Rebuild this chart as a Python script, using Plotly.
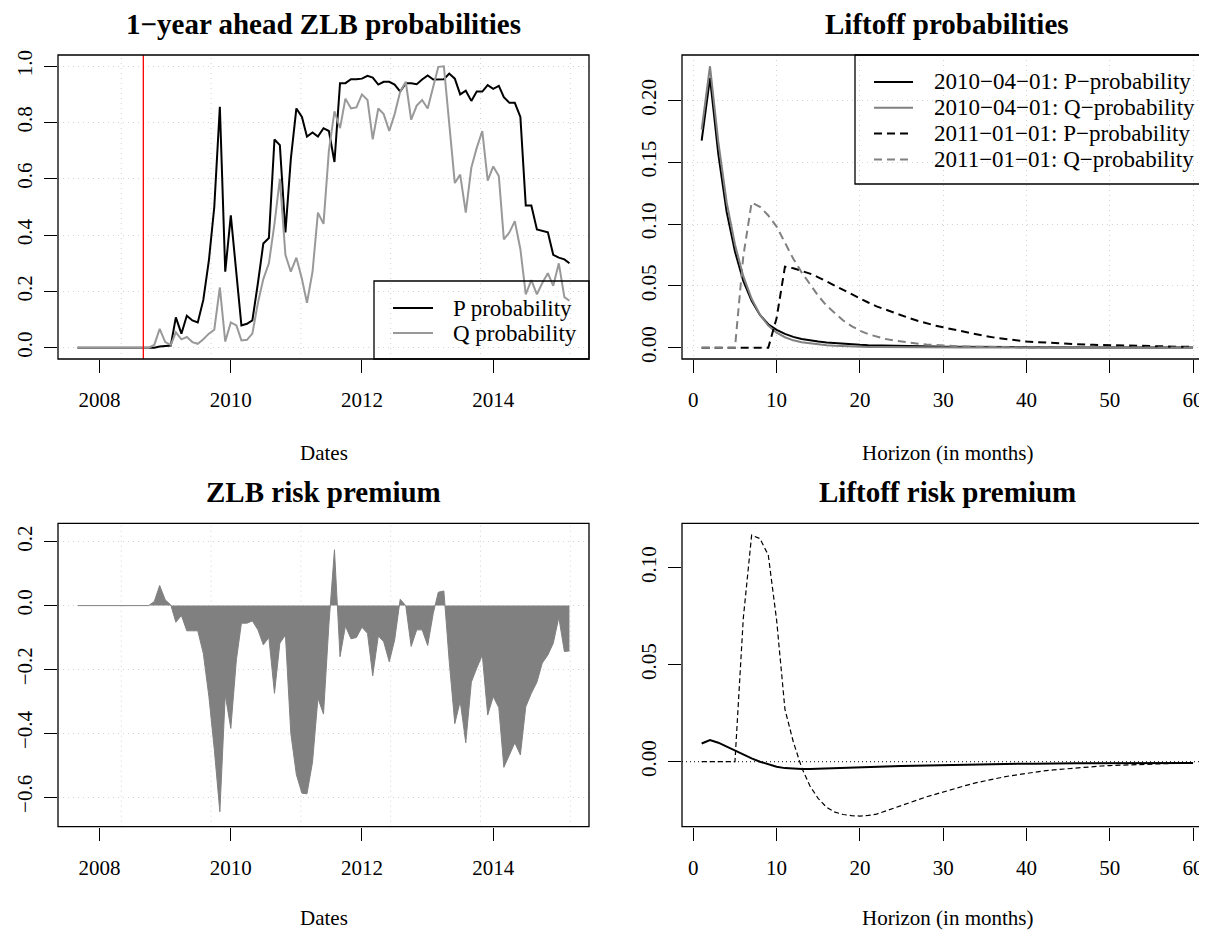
import plotly.graph_objects as go
import pandas as pd

# page body has an 8px margin; the figure is sized/offset so that it lands on the 1207x931 frame
OFF = 8
W, H = 1207 - OFF, 931 - OFF

# ---------------- data ----------------
dates = pd.date_range("2007-09-01", periods=91, freq="MS")

p_prob = [0, 0, 0, 0, 0, 0, 0, 0, 0, 0,
          0, 0, 0, 0, 0.000, 0.004, 0.006, 0.008, 0.108, 0.050,
          0.114, 0.097, 0.090, 0.170, 0.310, 0.500, 0.856, 0.270, 0.470, 0.255,
          0.079, 0.085, 0.097, 0.230, 0.370, 0.390, 0.740, 0.720, 0.410, 0.670,
          0.850, 0.820, 0.750, 0.765, 0.750, 0.780, 0.770, 0.660, 0.940, 0.940,
          0.954, 0.954, 0.956, 0.966, 0.960, 0.935, 0.945, 0.945, 0.935, 0.910,
          0.940, 0.940, 0.936, 0.953, 0.967, 0.953, 0.954, 0.954, 0.974, 0.956,
          0.900, 0.913, 0.877, 0.910, 0.910, 0.933, 0.920, 0.930, 0.890, 0.870,
          0.870, 0.820, 0.505, 0.505, 0.420, 0.415, 0.410, 0.330, 0.320, 0.314,
          0.300]

q_prob = [0, 0, 0, 0, 0, 0, 0, 0, 0, 0,
          0, 0, 0, 0, 0.010, 0.067, 0.020, 0.010, 0.055, 0.030,
          0.038, 0.020, 0.014, 0.030, 0.050, 0.064, 0.214, 0.022, 0.090, 0.079,
          0.026, 0.028, 0.050, 0.160, 0.244, 0.300, 0.440, 0.600, 0.330, 0.270,
          0.320, 0.244, 0.160, 0.270, 0.480, 0.440, 0.700, 0.840, 0.780, 0.885,
          0.850, 0.854, 0.900, 0.880, 0.740, 0.850, 0.830, 0.770, 0.830, 0.910,
          0.945, 0.810, 0.860, 0.880, 0.850, 0.930, 0.998, 1.000, 0.800, 0.585,
          0.615, 0.480, 0.640, 0.710, 0.770, 0.594, 0.644, 0.610, 0.385, 0.410,
          0.450, 0.350, 0.190, 0.240, 0.190, 0.230, 0.265, 0.220, 0.300, 0.180,
          0.167]

zlb_rp = [0, 0, 0, 0, 0, 0, 0, 0, 0, 0,
          0, 0, 0, 0, 0.013, 0.063, 0.018, 0.002, -0.052, -0.031,
          -0.079, -0.079, -0.079, -0.150, -0.285, -0.450, -0.646, -0.280, -0.385, -0.170,
          -0.055, -0.055, -0.048, -0.076, -0.123, -0.100, -0.275, -0.118, -0.092, -0.400,
          -0.530, -0.588, -0.590, -0.490, -0.290, -0.340, -0.060, 0.175, -0.160, -0.064,
          -0.104, -0.100, -0.068, -0.087, -0.220, -0.095, -0.113, -0.176, -0.108, 0.020,
          0.000, -0.128, -0.076, -0.076, -0.125, -0.024, 0.042, 0.046, -0.175, -0.370,
          -0.300, -0.430, -0.240, -0.196, -0.155, -0.343, -0.285, -0.320, -0.507, -0.468,
          -0.430, -0.468, -0.317, -0.275, -0.240, -0.180, -0.155, -0.118, -0.037, -0.144,
          -0.142]

horizon = list(range(1, 61))

p_2010 = [0.1675, 0.2183, 0.1567, 0.1100, 0.0778, 0.0541, 0.0379, 0.0265, 0.0190, 0.0145,
          0.0112, 0.0088, 0.0071, 0.0059, 0.0050, 0.0043, 0.0037, 0.0032, 0.0028, 0.0024,
          0.0021, 0.0019, 0.0017, 0.0015, 0.0014, 0.0013, 0.0012, 0.0011, 0.0010, 0.0009,
          0.0008, 0.0008, 0.0007, 0.0007, 0.0006, 0.0006, 0.0006, 0.0005, 0.0005, 0.0005,
          0.0005, 0.0004, 0.0004, 0.0004, 0.0004, 0.0004, 0.0003, 0.0003, 0.0003, 0.0003,
          0.0003, 0.0003, 0.0003, 0.0002, 0.0002, 0.0002, 0.0002, 0.0002, 0.0002, 0.0002]

q_2010 = [0.1764, 0.2277, 0.1665, 0.1177, 0.0835, 0.0579, 0.0396, 0.0268, 0.0180, 0.0122,
          0.0085, 0.0060, 0.0045, 0.0035, 0.0027, 0.0021, 0.0017, 0.0013, 0.0010, 0.0008,
          0.0007, 0.0006, 0.0005, 0.0004, 0.0004, 0.0003, 0.0003, 0.0003, 0.0002, 0.0002,
          0.0002, 0.0002, 0.0002, 0.0002, 0.0002, 0.0002, 0.0002, 0.0002, 0.0002, 0.0002,
          0.0001, 0.0001, 0.0001, 0.0001, 0.0001, 0.0001, 0.0001, 0.0001, 0.0001, 0.0001,
          0.0001, 0.0001, 0.0001, 0.0001, 0.0001, 0.0001, 0.0001, 0.0001, 0.0001, 0.0001]

p_2011 = [0, 0, 0, 0, 0, 0, 0, 0, 0, 0.0240,
          0.0656, 0.0643, 0.0622, 0.0600, 0.0570, 0.0535, 0.0500, 0.0467, 0.0433, 0.0400,
          0.0366, 0.0335, 0.0310, 0.0284, 0.0260, 0.0238, 0.0217, 0.0197, 0.0180, 0.0165,
          0.0150, 0.0135, 0.0121, 0.0108, 0.0095, 0.0084, 0.0074, 0.0065, 0.0057, 0.0050,
          0.0046, 0.0042, 0.0038, 0.0035, 0.0032, 0.0029, 0.0026, 0.0024, 0.0022, 0.0020,
          0.0018, 0.0016, 0.0015, 0.0013, 0.0012, 0.0011, 0.0010, 0.0009, 0.0008, 0.0008]

q_2011 = [0, 0, 0, 0, 0, 0.0740, 0.1175, 0.1140, 0.1070, 0.0980,
          0.0850, 0.0720, 0.0610, 0.0510, 0.0420, 0.0340, 0.0280, 0.0220, 0.0175, 0.0138,
          0.0110, 0.0089, 0.0072, 0.0060, 0.0049, 0.0040, 0.0033, 0.0027, 0.0022, 0.0018,
          0.0015, 0.0012, 0.0010, 0.0008, 0.0007, 0.0006, 0.0005, 0.0004, 0.0003, 0.0003,
          0.0002, 0.0002, 0.0002, 0.0002, 0.0002, 0.0002, 0.0002, 0.0002, 0.0002, 0.0002,
          0.0001, 0.0001, 0.0001, 0.0001, 0.0001, 0.0001, 0.0001, 0.0001, 0.0001, 0.0001]

rp_2010 = [0.0094, 0.0112, 0.0098, 0.0077, 0.0057, 0.0038, 0.0017, 0.0000, -0.0014, -0.0026,
           -0.0033, -0.0036, -0.0038, -0.0038, -0.0037, -0.0036, -0.0035, -0.0034, -0.0032, -0.0031,
           -0.0029, -0.0027, -0.0026, -0.0024, -0.0022, -0.0021, -0.0019, -0.0018, -0.0017, -0.0016,
           -0.0015, -0.0014, -0.0013, -0.0013, -0.0012, -0.0012, -0.0011, -0.0011, -0.0010, -0.0010,
           -0.0010, -0.0009, -0.0009, -0.0009, -0.0009, -0.0008, -0.0008, -0.0008, -0.0008, -0.0008,
           -0.0007, -0.0007, -0.0007, -0.0007, -0.0007, -0.0007, -0.0006, -0.0006, -0.0006, -0.0006]

rp_2011 = [0, 0, 0, 0, 0, 0.0740, 0.1168, 0.1150, 0.1065, 0.0730,
           0.0270, 0.0103, -0.0030, -0.0125, -0.0190, -0.0235, -0.0260, -0.0272, -0.0278, -0.0280,
           -0.0277, -0.0270, -0.0256, -0.0241, -0.0226, -0.0211, -0.0196, -0.0181, -0.0168, -0.0155,
           -0.0143, -0.0131, -0.0119, -0.0108, -0.0098, -0.0089, -0.0081, -0.0073, -0.0066, -0.0059,
           -0.0053, -0.0048, -0.0043, -0.0039, -0.0035, -0.0031, -0.0028, -0.0025, -0.0022, -0.0020,
           -0.0018, -0.0016, -0.0014, -0.0013, -0.0011, -0.0010, -0.0009, -0.0008, -0.0007, -0.0006]

event_date = "2008-09-01"
grid_days = [14000, 14500, 15000, 15500, 16000, 16500]  # R grid() positions (days since 1970)

titles = ["1\u2212year ahead ZLB probabilities", "Liftoff probabilities",
          "ZLB risk premium", "Liftoff risk premium"]
xlabels = ["Dates", "Horizon (in months)", "Dates", "Horizon (in months)"]
legend_tl = ["P probability", "Q probability"]
legend_tr = ["2010\u221204\u221201: P\u2212probability", "2010\u221204\u221201: Q\u2212probability",
             "2011\u221201\u221201: P\u2212probability", "2011\u221201\u221201: Q\u2212probability"]

# ---------------- helpers ----------------
FONT = "Liberation Serif"
GRIDC = "#D3D3D3"
GRIDDASH = "1px,4px"


def px(x):
    return (x - OFF) / W


def py(y):
    return 1 - (y - OFF) / H


fig = go.Figure()

# top-left
fig.add_trace(go.Scatter(x=dates, y=p_prob, mode="lines", name=legend_tl[0],
                         line=dict(color="black", width=2), xaxis="x", yaxis="y"))
fig.add_trace(go.Scatter(x=dates, y=q_prob, mode="lines", name=legend_tl[1],
                         line=dict(color="#999999", width=2), xaxis="x", yaxis="y"))
# top-right
fig.add_trace(go.Scatter(x=horizon, y=p_2010, mode="lines", name=legend_tr[0],
                         line=dict(color="black", width=2), xaxis="x2", yaxis="y2"))
fig.add_trace(go.Scatter(x=horizon, y=q_2010, mode="lines", name=legend_tr[1],
                         line=dict(color="#808080", width=2), xaxis="x2", yaxis="y2"))
fig.add_trace(go.Scatter(x=horizon, y=p_2011, mode="lines", name=legend_tr[2],
                         line=dict(color="black", width=2, dash="8px,5px"), xaxis="x2", yaxis="y2"))
fig.add_trace(go.Scatter(x=horizon, y=q_2011, mode="lines", name=legend_tr[3],
                         line=dict(color="#808080", width=2, dash="8px,5px"), xaxis="x2", yaxis="y2"))
# bottom-left
fig.add_trace(go.Scatter(x=dates, y=zlb_rp, mode="lines", name="ZLB risk premium",
                         fill="tozeroy", fillcolor="#808080",
                         line=dict(color="#808080", width=1), xaxis="x3", yaxis="y3"))
# bottom-right
fig.add_trace(go.Scatter(x=horizon, y=rp_2010, mode="lines", name="2010-04-01",
                         line=dict(color="black", width=2), xaxis="x4", yaxis="y4"))
fig.add_trace(go.Scatter(x=horizon, y=rp_2011, mode="lines", name="2011-01-01",
                         line=dict(color="black", width=1.2, dash="5px,3px"), xaxis="x4", yaxis="y4"))

tickfont = dict(family=FONT, size=21, color="black")
common_x = dict(ticks="outside", ticklen=13, tickwidth=1.2, tickcolor="black",
                showline=False, zeroline=False, tickfont=tickfont, ticklabelstandoff=9)
common_y = dict(ticks="outside", ticklen=13, tickwidth=1.2, tickcolor="black",
                showline=False, zeroline=False, tickfont=tickfont, tickangle=-90,
                ticklabelstandoff=4)

top_dom = [py(359), py(55)]
bot_dom = [py(826.7), py(523.3)]
left_dom = [px(58), px(589)]
right_dom = [px(682), 1.0]
date_range = ["2007-05-15", "2015-06-18"]
h_range = [-1.36, 61.67]

fig.update_layout(
    width=W, height=H,
    margin=dict(l=0, r=0, t=0, b=0, autoexpand=False),
    paper_bgcolor="white", plot_bgcolor="white",
    showlegend=False,
    xaxis=dict(domain=left_dom, anchor="y", type="date", range=date_range,
               tickmode="linear", tick0="2008-01-01", dtick="M24", tickformat="%Y",
               showgrid=False, **common_x),
    yaxis=dict(domain=top_dom, anchor="x", range=[-0.04, 1.04],
               tickvals=[0, 0.2, 0.4, 0.6, 0.8, 1.0], tickformat=".1f",
               showgrid=True, gridcolor=GRIDC, griddash=GRIDDASH, gridwidth=1, **common_y),
    xaxis2=dict(domain=right_dom, anchor="y2", range=h_range,
                tickvals=[0, 10, 20, 30, 40, 50, 60],
                showgrid=True, gridcolor=GRIDC, griddash=GRIDDASH, gridwidth=1, **common_x),
    yaxis2=dict(domain=top_dom, anchor="x2", range=[-0.0091, 0.2368],
                tickvals=[0, 0.05, 0.10, 0.15, 0.20], tickformat=".2f",
                showgrid=True, gridcolor=GRIDC, griddash=GRIDDASH, gridwidth=1, **common_y),
    xaxis3=dict(domain=left_dom, anchor="y3", type="date", range=date_range,
                tickmode="linear", tick0="2008-01-01", dtick="M24", tickformat="%Y",
                showgrid=False, **common_x),
    yaxis3=dict(domain=bot_dom, anchor="x3", range=[-0.693, 0.258],
                tickvals=[-0.6, -0.4, -0.2, 0.0, 0.2], tickformat=".1f",
                showgrid=True, gridcolor=GRIDC, griddash=GRIDDASH, gridwidth=1, **common_y),
    xaxis4=dict(domain=right_dom, anchor="y4", range=h_range,
                tickvals=[0, 10, 20, 30, 40, 50, 60], showgrid=False, **common_x),
    yaxis4=dict(domain=bot_dom, anchor="x4", range=[-0.0335, 0.1229],
                tickvals=[0, 0.05, 0.10], tickformat=".2f", showgrid=False, **common_y),
)

shapes = []
# vertical R-grid lines on the date panels
for d in grid_days:
    xd = (pd.Timestamp("1970-01-01") + pd.Timedelta(days=d)).strftime("%Y-%m-%d")
    for xr, yr in (("x", "y domain"), ("x3", "y3 domain")):
        shapes.append(dict(type="line", xref=xr, yref=yr, x0=xd, x1=xd, y0=0, y1=1,
                           line=dict(color=GRIDC, width=1, dash=GRIDDASH), layer="below"))
# event line
shapes.append(dict(type="line", xref="x", yref="y domain", x0=event_date, x1=event_date,
                   y0=0, y1=1, line=dict(color="#FF0000", width=1.3)))
# zero line bottom-right
shapes.append(dict(type="line", xref="x4 domain", yref="y4", x0=0, x1=1, y0=0, y1=0,
                   line=dict(color="black", width=1, dash="1px,3px"), layer="below"))
# plot boxes
for xr, yr, x1 in (("x", "y", 1), ("x2", "y2", 1.05), ("x3", "y3", 1), ("x4", "y4", 1.05)):
    shapes.append(dict(type="rect", xref=xr + " domain", yref=yr + " domain",
                       x0=0, x1=x1, y0=0, y1=1, line=dict(color="black", width=1.3),
                       fillcolor="rgba(0,0,0,0)"))

annotations = []
LEGFONT = dict(family=FONT, size=23, color="black")
# legend top-left
shapes.append(dict(type="rect", xref="paper", yref="paper", x0=px(374), x1=px(589),
                   y0=py(359), y1=py(281), line=dict(color="black", width=1.3),
                   fillcolor="rgba(0,0,0,0)"))
for i, (lab, col) in enumerate(zip(legend_tl, ["black", "#999999"])):
    yy = 308 + 25 * i
    shapes.append(dict(type="line", xref="paper", yref="paper", x0=px(393), x1=px(433),
                       y0=py(yy), y1=py(yy), line=dict(color=col, width=2)))
    annotations.append(dict(xref="paper", yref="paper", x=px(451), y=py(yy), text=lab,
                            xanchor="left", yanchor="middle", showarrow=False, font=LEGFONT))
# legend top-right
shapes.append(dict(type="rect", xref="paper", yref="paper", x0=px(855), x1=px(1240),
                   y0=py(184), y1=py(55), line=dict(color="black", width=1.3),
                   fillcolor="rgba(0,0,0,0)"))
for i, (lab, col, dash) in enumerate(zip(legend_tr, ["black", "#808080", "black", "#808080"],
                                          ["solid", "solid", "8px,5px", "8px,5px"])):
    yy = 82 + 25.8 * i
    shapes.append(dict(type="line", xref="paper", yref="paper", x0=px(874), x1=px(913),
                       y0=py(yy), y1=py(yy), line=dict(color=col, width=2, dash=dash)))
    annotations.append(dict(xref="paper", yref="paper", x=px(932), y=py(yy), text=lab,
                            xanchor="left", yanchor="middle", showarrow=False, font=LEGFONT))

# titles and axis titles
centers = [323.5, 947.4, 323.5, 947.4]
tys = [24, 24, 492, 492]
xtys = [453, 453, 918, 918]
for t, xl, cx, ty, xty in zip(titles, xlabels, centers, tys, xtys):
    annotations.append(dict(xref="paper", yref="paper", x=px(cx), y=py(ty), text="<b>" + t + "</b>",
                            xanchor="center", yanchor="middle", showarrow=False,
                            font=dict(family=FONT, size=29, color="black")))
    annotations.append(dict(xref="paper", yref="paper", x=px(cx), y=py(xty), text=xl,
                            xanchor="center", yanchor="middle", showarrow=False,
                            font=dict(family=FONT, size=21, color="black")))

fig.update_layout(shapes=shapes, annotations=annotations)
fig.write_html("out.html")
